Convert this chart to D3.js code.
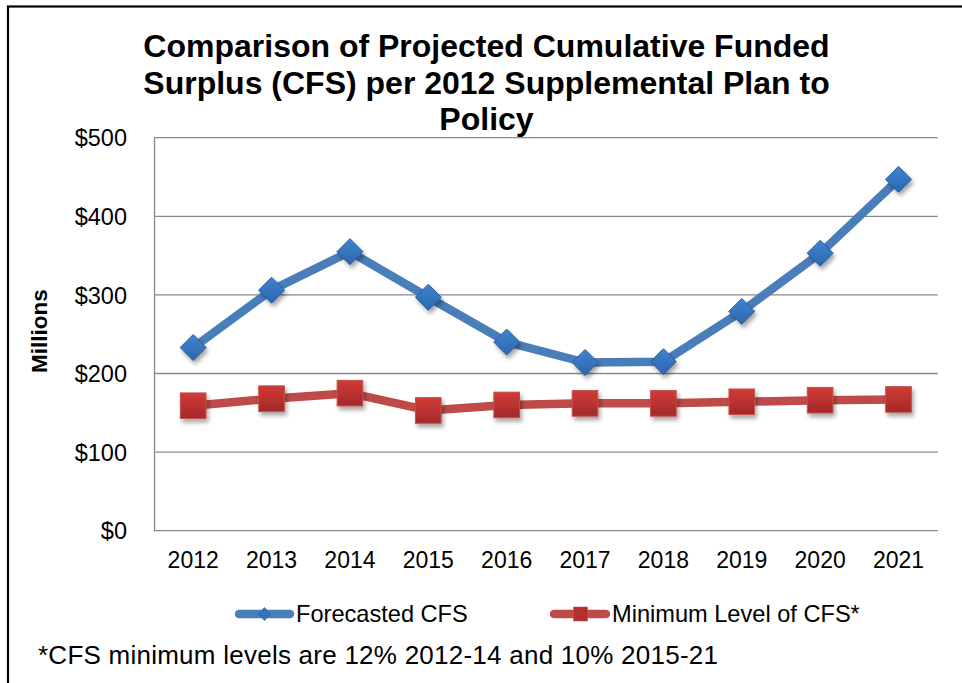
<!DOCTYPE html>
<html>
<head>
<meta charset="utf-8">
<script src="https://cdn.jsdelivr.net/npm/d3@7"></script>
<style>
  html, body { margin: 0; padding: 0; background: #fff; }
  svg { display: block; }
  text { font-family: "Liberation Sans", Arial, sans-serif; fill: #000; }
</style>
</head>
<body>
<svg id="chart" width="962" height="683"></svg>
<script>
const years = ["2012","2013","2014","2015","2016","2017","2018","2019","2020","2021"];
const forecastedCFS = [233, 306, 355, 297, 240, 214, 215, 279, 353, 447];
const minimumCFS = [159, 168, 175, 153, 160, 162, 162, 164, 166, 167];
const yTicks = [0, 100, 200, 300, 400, 500];
const titleLines = ["Comparison of Projected Cumulative Funded", "Surplus (CFS) per 2012 Supplemental Plan to", "Policy"];
const seriesNames = ["Forecasted CFS", "Minimum Level of CFS*"];
const footnote = "*CFS minimum levels are 12% 2012-14 and 10% 2015-21";
const yAxisTitle = "Millions";

const svg = d3.select("#chart");
const W = 962, H = 683;
const plot = { left: 154, right: 937.7, top: 137.7, bottom: 530.7 };

// defs: shadow + gradients
const defs = svg.append("defs");
const f = defs.append("filter").attr("id", "shadow").attr("x", "-50%").attr("y", "-50%").attr("width", "200%").attr("height", "200%");
f.append("feDropShadow").attr("dx", 2).attr("dy", 3.5).attr("stdDeviation", 2).attr("flood-color", "#000").attr("flood-opacity", 0.35);

const gBlue = defs.append("linearGradient").attr("id", "gBlue").attr("x1", 0).attr("y1", 0).attr("x2", 0).attr("y2", 1);
gBlue.append("stop").attr("offset", "0%").attr("stop-color", "#3f84d2");
gBlue.append("stop").attr("offset", "100%").attr("stop-color", "#2d66ad");
const gRed = defs.append("linearGradient").attr("id", "gRed").attr("x1", 0).attr("y1", 0).attr("x2", 0).attr("y2", 1);
gRed.append("stop").attr("offset", "0%").attr("stop-color", "#d23b36");
gRed.append("stop").attr("offset", "100%").attr("stop-color", "#a3282a");

// outer frame (extends past right/bottom edges)
svg.append("rect").attr("x", 8).attr("y", 6.5).attr("width", W).attr("height", H)
  .attr("fill", "none").attr("stroke", "#000").attr("stroke-width", 2.2);

// scales
const x = d3.scaleBand().domain(years).range([plot.left, plot.right]);
const y = d3.scaleLinear().domain([0, 500]).range([plot.bottom, plot.top]);
const cx = d => x(d) + x.bandwidth() / 2;

// gridlines
svg.append("g").selectAll("line").data(yTicks).join("line")
  .attr("x1", plot.left).attr("x2", plot.right)
  .attr("y1", d => y(d)).attr("y2", d => y(d))
  .attr("stroke", "#888").attr("stroke-width", 1.3);

// y axis
const yAxis = d3.axisLeft(y).tickValues(yTicks).tickSize(0).tickPadding(27).tickFormat(d => "$" + d);
const yg = svg.append("g").attr("transform", `translate(${plot.left},0)`).call(yAxis);
yg.select(".domain").attr("stroke", "#888").attr("stroke-width", 1.3);
yg.selectAll("text").style("font-size", "23.5px").attr("dy", "0.35em")
  .style("font-family", "'Liberation Sans', Arial, sans-serif").attr("fill", "#000");

// x axis
const xAxis = d3.axisBottom(x).tickSize(0).tickPadding(21);
const xg = svg.append("g").attr("transform", `translate(0,${plot.bottom})`).call(xAxis);
xg.select(".domain").remove();
xg.selectAll("text").style("font-size", "23px")
  .style("font-family", "'Liberation Sans', Arial, sans-serif").attr("fill", "#000");

// y axis title
svg.append("text").attr("transform", "translate(47,331) rotate(-90)")
  .attr("text-anchor", "middle").style("font-size", "22.5px").style("font-weight", "bold").text(yAxisTitle);

// title
svg.append("g").selectAll("text").data(titleLines).join("text")
  .attr("x", 486.5).attr("y", (d, i) => 57 + i * 36.5)
  .attr("text-anchor", "middle").style("font-size", "32px").style("font-weight", "bold")
  .text(d => d);

// lines
const lineGen = d3.line().x((d, i) => cx(years[i])).y(d => y(d));
svg.append("path").datum(forecastedCFS).attr("d", lineGen)
  .attr("fill", "none").attr("stroke", "#4a7ebb").attr("stroke-width", 8.5).attr("stroke-linejoin", "round");
svg.append("path").datum(minimumCFS).attr("d", lineGen)
  .attr("fill", "none").attr("stroke", "#be4b48").attr("stroke-width", 8.5).attr("stroke-linejoin", "round");

// markers
const diamond = (s) => `M0,${-s}L${s},0L0,${s}L${-s},0Z`;
svg.append("g").selectAll("path").data(forecastedCFS).join("path")
  .attr("transform", (d, i) => `translate(${cx(years[i])},${y(d)})`)
  .attr("d", diamond(13))
  .attr("fill", "url(#gBlue)").attr("stroke", "#2b5e9c").attr("stroke-width", 1)
  .attr("filter", "url(#shadow)");
svg.append("g").selectAll("rect").data(minimumCFS).join("rect")
  .attr("x", (d, i) => cx(years[i]) - 12.8).attr("y", d => y(d) - 12.8)
  .attr("width", 25.6).attr("height", 25.6)
  .attr("fill", "url(#gRed)").attr("stroke", "#c2504d").attr("stroke-width", 1)
  .attr("filter", "url(#shadow)");

// legend
const leg = svg.append("g");
const legY = 614;
// blue
leg.append("line").attr("x1", 239).attr("x2", 290).attr("y1", legY).attr("y2", legY)
  .attr("stroke", "#4a7ebb").attr("stroke-width", 8.5).attr("stroke-linecap", "round");
leg.append("path").attr("transform", `translate(264.5,${legY})`).attr("d", diamond(6.5))
  .attr("fill", "#3572bd").attr("stroke", "#2b5e9c").attr("stroke-width", 0.6);
leg.append("text").attr("x", 296).attr("y", 621.5).style("font-size", "23.6px").text(seriesNames[0]);
// red
leg.append("line").attr("x1", 554).attr("x2", 606).attr("y1", legY).attr("y2", legY)
  .attr("stroke", "#be4b48").attr("stroke-width", 8.5).attr("stroke-linecap", "round");
leg.append("rect").attr("x", 573.5).attr("y", legY - 7).attr("width", 14).attr("height", 14)
  .attr("fill", "#b3302f").attr("stroke", "#c2504d").attr("stroke-width", 0.6);
leg.append("text").attr("x", 612).attr("y", 621.5).style("font-size", "23.6px").text(seriesNames[1]);

// footnote
svg.append("text").attr("x", 38).attr("y", 663.5).style("font-size", "26px")
  .attr("textLength", 680).attr("lengthAdjust", "spacing").text(footnote);
</script>
</body>
</html>
